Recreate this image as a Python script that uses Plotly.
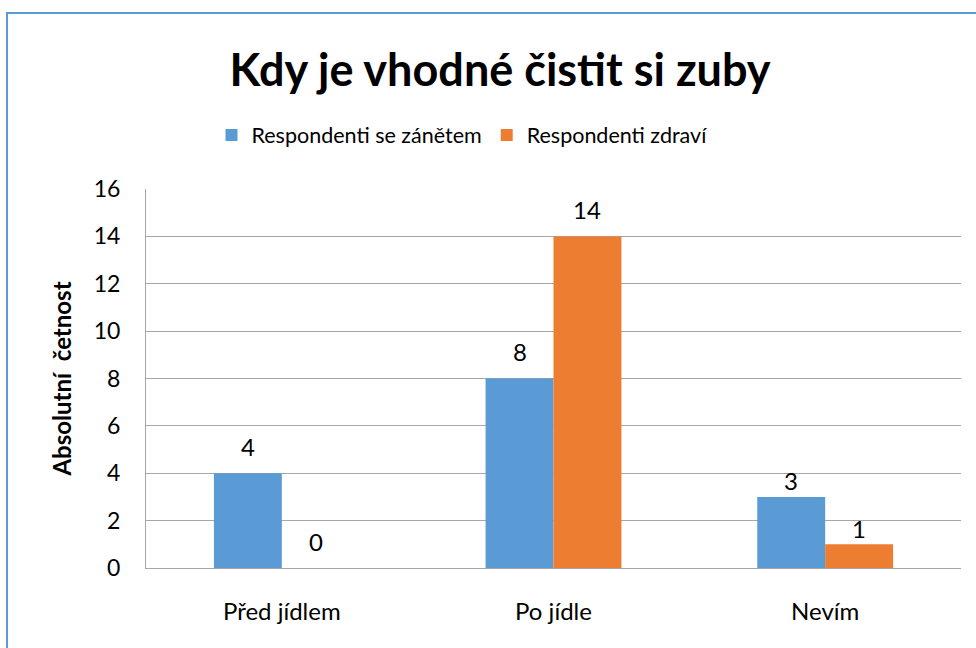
import plotly.graph_objects as go

categories = ["Před jídlem", "Po jídle", "Nevím"]
series_names = ["Respondenti se zánětem", "Respondenti zdraví"]
inflamed = [4, 8, 3]
healthy = [0, 14, 1]
y_ticks = [0, 2, 4, 6, 8, 10, 12, 14, 16]

colors = ["#5B9BD5", "#ED7D31"]
FONT = "Lato"
BARGAP = 0.5
# vertical gap (px) between bar top and label centre, per category (style only)
label_gap = {"Před jídlem": 27, "Po jídle": 27, "Nevím": 16}

fig = go.Figure()
for name, vals, col in zip(series_names, [inflamed, healthy], colors):
    fig.add_trace(go.Bar(
        x=categories, y=vals, name=name, marker=dict(color=col, line=dict(width=0)),
        hoverinfo="x+y+name",
    ))

# data labels above each bar, placed via the axis scales
n_series = 2
bar_w = (1 - BARGAP) / n_series
for s, vals in enumerate([inflamed, healthy]):
    off = -(1 - BARGAP) / 2 + bar_w * (s + 0.5)
    for i, (cat, v) in enumerate(zip(categories, vals)):
        fig.add_annotation(x=i + off, y=v, xref="x", yref="y", text=str(v), showarrow=False,
                           yanchor="middle", xanchor="center", yshift=label_gap[cat],
                           font=dict(family=FONT, size=24, color="#000000"))

W, H = 976, 648
L, R, T, B = 146, 15, 189, 80
pw, ph = W - L - R, H - T - B

fig.update_layout(
    width=W, height=H,
    margin=dict(l=L, r=R, t=T, b=B),
    paper_bgcolor="white", plot_bgcolor="white",
    barmode="group", bargap=BARGAP, bargroupgap=0,
    font=dict(family=FONT, size=24, color="#000000"),
    title=dict(text="<b>Kdy je vhodné čistit si zuby</b>", x=500 / W, xanchor="center",
               y=1 - 70 / H, yanchor="middle", font=dict(family=FONT, size=45, color="#000000")),
    legend=dict(orientation="h", x=(462 - L) / pw, xanchor="center", y=(H - B - 135) / ph, yanchor="middle",
                font=dict(family=FONT, size=21.5), itemwidth=30, traceorder="normal"),
    showlegend=True,
)
fig.update_yaxes(range=[0, 16], tickvals=y_ticks, showgrid=True, gridcolor="#A6A6A6", gridwidth=1,
                 showline=True, linecolor="#A6A6A6", linewidth=1, ticks="", ticklabelstandoff=20,
                 zeroline=False, tickfont=dict(family=FONT, size=23),
                 title=dict(text="<b>Absolutní\u00a0 četnost</b>", font=dict(family=FONT, size=24), standoff=15))
fig.update_xaxes(showline=True, linecolor="#A6A6A6", linewidth=1, ticks="", ticklabelstandoff=22,
                 tickfont=dict(family=FONT, size=24))

# chart border (partially visible: left and top edges)
fig.add_shape(type="rect", xref="paper", yref="paper",
              x0=(7 - L) / pw, x1=(W + 20 - L) / pw,
              y0=(H - B - (H + 20)) / ph, y1=(H - B - 13) / ph,
              line=dict(color="#5B9BD5", width=2), fillcolor="rgba(0,0,0,0)", layer="below")

fig.write_html("out.html", config={"displayModeBar": False})

# remove default browser body margin so the figure sits at the page origin
with open("out.html", "r", encoding="utf-8") as f:
    html = f.read()
html = html.replace("<head>", "<head><style>html,body{margin:0;padding:0;}</style>", 1)
with open("out.html", "w", encoding="utf-8") as f:
    f.write(html)
